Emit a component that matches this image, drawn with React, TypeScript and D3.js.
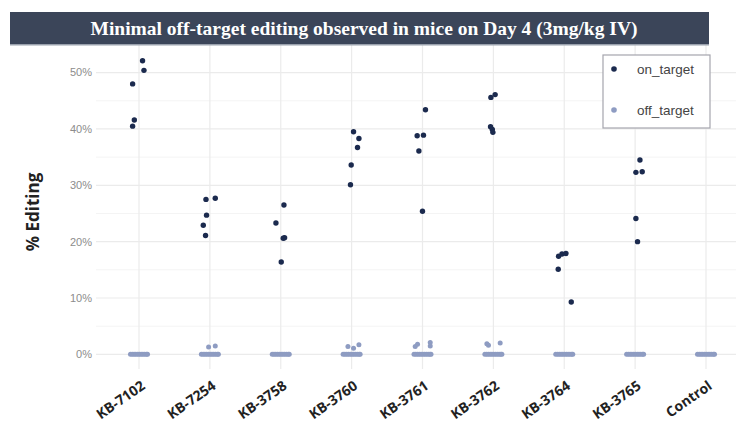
import React from 'react';
import * as d3 from 'd3';

// categories on the x axis
const categories = ['KB-7102', 'KB-7254', 'KB-3758', 'KB-3760', 'KB-3761', 'KB-3762', 'KB-3764', 'KB-3765', 'Control'];

// on_target % editing per category (one value per mouse) and horizontal jitter (fraction of step)
const onTargetValues: number[][] = [
  [52.1, 50.4, 48.0, 41.6, 40.5],
  [27.5, 27.7, 24.7, 22.9, 21.1],
  [26.5, 23.3, 20.7, 20.6, 16.4],
  [39.5, 38.3, 36.7, 33.6, 30.1],
  [43.4, 38.8, 38.9, 36.1, 25.4],
  [45.6, 46.1, 40.4, 39.9, 39.4],
  [17.4, 17.8, 17.9, 15.1, 9.3],
  [34.5, 32.3, 32.4, 24.1, 20.0],
  [],
];
const onTargetJitter: number[][] = [
  [0.05, 0.07, -0.09, -0.066, -0.09],
  [-0.055, 0.076, -0.047, -0.093, -0.061],
  [0.045, -0.068, 0.054, 0.035, 0.007],
  [0.027, 0.103, 0.083, -0.006, -0.016],
  [0.042, -0.075, 0.014, -0.051, 0.0],
  [-0.035, 0.025, -0.04, -0.015, -0.007],
  [-0.08, -0.032, 0.024, -0.085, 0.099],
  [0.068, 0.011, 0.1, 0.011, 0.034],
  [],
];

// off_target values above zero
const offTargetValues: number[][] = [
  [],
  [1.3, 1.5],
  [],
  [1.4, 1.1, 1.7],
  [1.4, 1.8, 2.1, 1.5],
  [1.9, 1.6, 2.0],
  [],
  [],
  [],
];
const offTargetJitter: number[][] = [
  [],
  [-0.018, 0.076],
  [],
  [-0.052, 0.027, 0.103],
  [-0.103, -0.07, 0.109, 0.109],
  [-0.092, -0.069, 0.096],
  [],
  [],
  [],
];
// off_target sites at 0% in every group
const offTargetZeroJitter = [-0.12, -0.095, -0.07, -0.045, -0.02, 0.005, 0.03, 0.055, 0.08, 0.105, 0.12];

const yTicks = [0, 10, 20, 30, 40, 50];
const yMinor = [5, 15, 25, 35, 45];

const ON_COLOR = '#1b2a4e';
const OFF_COLOR = '#8e9cc2';

const W = 736;
const H = 428;

export default function App() {
  const panel = { left: 96, right: 736, top: 45, bottom: 369 };

  const x = d3.scalePoint<string>().domain(categories).range([139, 706]);
  const step = x.step();
  const y = d3.scaleLinear().domain([-2.6, 54.9]).range([panel.bottom, panel.top]);

  const onPts: { cx: number; cy: number }[] = [];
  const offPts: { cx: number; cy: number }[] = [];
  categories.forEach((c, i) => {
    onTargetValues[i].forEach((v, j) => onPts.push({ cx: (x(c) as number) + onTargetJitter[i][j] * step, cy: y(v) }));
    offTargetZeroJitter.forEach(j => offPts.push({ cx: (x(c) as number) + j * step, cy: y(0) }));
    offTargetValues[i].forEach((v, j) => offPts.push({ cx: (x(c) as number) + offTargetJitter[i][j] * step, cy: y(v) }));
  });

  return (
    <svg width={W} height={H} style={{ display: 'block', position: 'absolute', left: 0, top: 0, background: '#fff' }}>
      {/* grid */}
      {yMinor.map(t => (
        <line key={'m' + t} x1={panel.left} x2={panel.right} y1={y(t)} y2={y(t)} stroke="#f4f4f4" strokeWidth={1} />
      ))}
      {yTicks.map(t => (
        <line key={'g' + t} x1={panel.left} x2={panel.right} y1={y(t)} y2={y(t)} stroke="#ebebeb" strokeWidth={1.2} />
      ))}
      {categories.map(c => (
        <line key={'v' + c} x1={x(c)} x2={x(c)} y1={panel.top} y2={panel.bottom} stroke="#ebebeb" strokeWidth={1.2} />
      ))}

      {/* title bar */}
      <rect x={10} y={12} width={699} height={33} fill="#3b4559" />
      <rect x={10} y={44} width={699} height={1.5} fill="#9aa1ad" />
      <text x={364} y={34.5} textAnchor="middle" fill="#fff" fontFamily="'Liberation Serif', 'DejaVu Serif', serif" fontWeight="bold" fontSize={19.5}>
        Minimal off-target editing observed in mice on Day 4 (3mg/kg IV)
      </text>

      {/* y axis */}
      {yTicks.map(t => (
        <text key={'yt' + t} x={92} y={y(t)} dy="0.35em" textAnchor="end" fill="#8c8c8c" fontFamily="'Liberation Sans', Arial, sans-serif" fontSize={11}>
          {t}%
        </text>
      ))}
      <text transform={`translate(39,212) rotate(-90)`} textAnchor="middle" fill="#222" fontFamily="'Open Sans', sans-serif" fontWeight="bold" fontSize={17}>
        % Editing
      </text>

      {/* x axis labels */}
      {categories.map(c => (
        <text key={'xl' + c} transform={`translate(${(x(c) as number) + 7},${388}) rotate(-35)`} textAnchor="end" fill="#222" fontFamily="'Open Sans', sans-serif" fontWeight="bold" fontSize={14}>
          {c}
        </text>
      ))}

      {/* points */}
      {offPts.map((p, i) => (
        <circle key={'o' + i} cx={p.cx} cy={p.cy} r={2.5} fill={OFF_COLOR} />
      ))}
      {onPts.map((p, i) => (
        <circle key={'n' + i} cx={p.cx} cy={p.cy} r={2.7} fill={ON_COLOR} />
      ))}

      {/* legend */}
      <g transform="translate(603,55)">
        <rect x={0} y={0} width={107} height={73} fill="#fff" stroke="#a5a5ad" strokeWidth={1.2} />
        <circle cx={11} cy={14} r={2.8} fill={ON_COLOR} />
        <text x={34} y={14} dy="0.35em" fill="#444" fontFamily="'Liberation Sans', Arial, sans-serif" fontSize={13.5}>on_target</text>
        <circle cx={11} cy={55} r={2.8} fill={OFF_COLOR} />
        <text x={34} y={55} dy="0.35em" fill="#444" fontFamily="'Liberation Sans', Arial, sans-serif" fontSize={13.5}>off_target</text>
      </g>
    </svg>
  );
}
